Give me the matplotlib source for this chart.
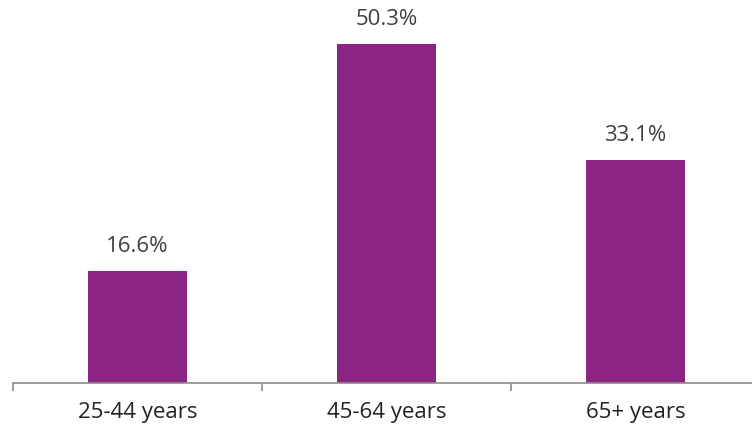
import matplotlib.pyplot as plt

categories = ["25-44 years", "45-64 years", "65+ years"]
values = [16.6, 50.3, 33.1]
labels = ["16.6%", "50.3%", "33.1%"]

fig = plt.figure(figsize=(7.52, 4.29), dpi=100)
# axes runs a little past the right edge, as in the original
ax = fig.add_axes([13 / 752, 46 / 429, 747 / 752, 383 / 429])

bars = ax.bar(range(len(values)), values, width=0.4, color="#8B2483")

for i, (v, lab) in enumerate(zip(values, labels)):
    ax.annotate(lab, (i, v), textcoords="offset points", xytext=(0, 10),
                ha="center", va="bottom", fontsize=16, color="#404040",
                family="Open Sans")

ax.set_xlim(-0.5, 2.5)
ax.set_ylim(0, 56.8)

for side in ["top", "right", "left"]:
    ax.spines[side].set_visible(False)
ax.spines["bottom"].set_color("#8c8c8c")
ax.spines["bottom"].set_linewidth(1.2)

ax.set_yticks([])
ax.set_xticks(range(len(categories)))
ax.set_xticklabels(categories, fontsize=16, family="Open Sans", color="#222222")
ax.tick_params(axis="x", which="major", length=0, pad=14)
ax.set_xticks([-0.5, 0.5, 1.5, 2.5], minor=True)
ax.tick_params(axis="x", which="minor", length=6, color="#8c8c8c", width=1.2)

fig.savefig("out.png", dpi=100)
